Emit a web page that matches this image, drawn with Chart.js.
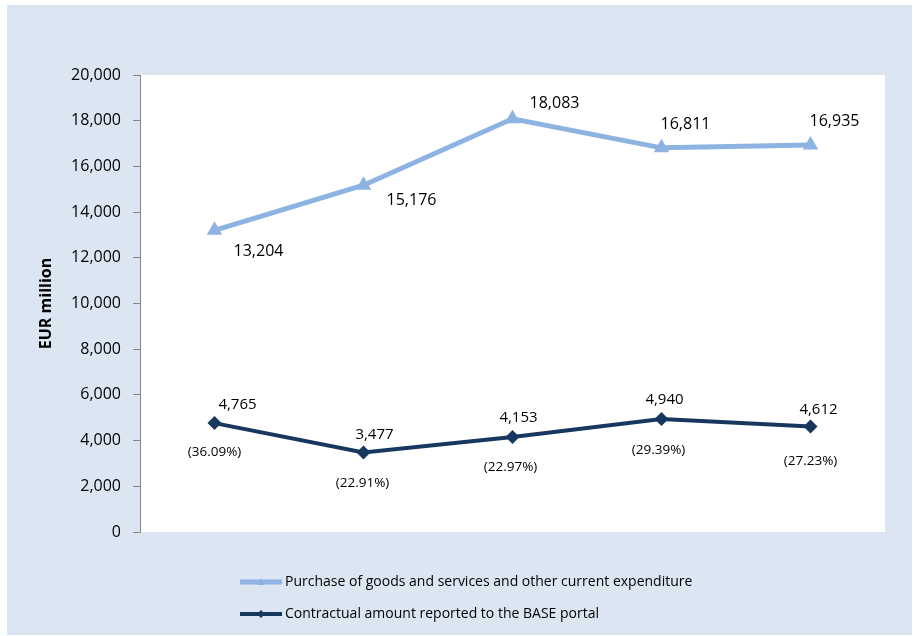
<!DOCTYPE html>
<html>
<head>
<meta charset="utf-8">
<title>Purchase of goods and services vs BASE portal</title>
<script src="https://cdn.jsdelivr.net/npm/chart.js@4/dist/chart.umd.min.js"></script>
<style>
  html, body { margin: 0; padding: 0; background: #fff; }
  #wrap { width: 913px; height: 636px; }
</style>
</head>
<body>
<div id="wrap"><canvas id="chartGastos" width="913" height="636"></canvas></div>
<script>
// Datos
const years = ["2012", "2013", "2014", "2015", "2016"];
const purchaseValues = [13204, 15176, 18083, 16811, 16935];
const baseValues = [4765, 3477, 4153, 4940, 4612];
const baseShareLabels = ["(36.09%)", "(22.91%)", "(22.97%)", "(29.39%)", "(27.23%)"];
const yTicks = [0, 2000, 4000, 6000, 8000, 10000, 12000, 14000, 16000, 18000, 20000];

// Posición de las etiquetas respecto al punto (px)
const purchaseLabelOffsets = [[44, 21], [48, 15], [42, -15], [24, -23], [24, -24]];
const baseLabelOffsets = [[23, -18], [11, -18], [6, -19], [3, -19], [8, -17]];
const shareLabelOffsets = [[0, 29], [-1, 31], [-2, 30], [-3, 31], [0, 35]];

const FONT = "'Open Sans', sans-serif";
const fmt = v => v.toLocaleString("en-US");

// Fondo azul y área blanca del gráfico
const fondo = {
  id: "fondo",
  beforeDraw(chart) {
    const { ctx, chartArea: a } = chart;
    ctx.save();
    ctx.fillStyle = "#ffffff";
    ctx.fillRect(0, 0, chart.width, chart.height);
    ctx.fillStyle = "#dce6f2";
    ctx.fillRect(7, 5, 905, 630);
    ctx.fillStyle = "#ffffff";
    ctx.fillRect(a.left, a.top, a.right - a.left, a.bottom - a.top);
    ctx.restore();
  }
};

// Etiquetas de valores y porcentajes
const etiquetas = {
  id: "etiquetas",
  afterDatasetsDraw(chart) {
    const { ctx } = chart;
    ctx.save();
    ctx.fillStyle = "#000";
    ctx.textAlign = "center";
    ctx.textBaseline = "middle";
    const m0 = chart.getDatasetMeta(0).data;
    const m1 = chart.getDatasetMeta(1).data;
    ctx.font = "16px " + FONT;
    m0.forEach((p, i) => {
      const [dx, dy] = purchaseLabelOffsets[i];
      ctx.fillText(fmt(purchaseValues[i]), p.x + dx, p.y + dy);
    });
    ctx.font = "15px " + FONT;
    m1.forEach((p, i) => {
      const [dx, dy] = baseLabelOffsets[i];
      ctx.fillText(fmt(baseValues[i]), p.x + dx, p.y + dy);
    });
    ctx.font = "13.5px " + FONT;
    m1.forEach((p, i) => {
      const [dx, dy] = shareLabelOffsets[i];
      ctx.fillText(baseShareLabels[i], p.x + dx, p.y + dy);
    });
    ctx.restore();
  }
};

// Leyenda: línea con marcador y texto
const leyenda = {
  id: "leyenda",
  afterDraw(chart) {
    const { ctx } = chart;
    const rows = [582, 614];
    ctx.save();
    chart.data.datasets.forEach((ds, i) => {
      const y = rows[i];
      ctx.strokeStyle = ds.borderColor;
      ctx.lineWidth = ds.borderWidth;
      ctx.beginPath();
      ctx.moveTo(240, y);
      ctx.lineTo(282, y);
      ctx.stroke();
      ctx.fillStyle = ds.borderColor;
      ctx.beginPath();
      if (ds.pointStyle === "triangle") {
        ctx.moveTo(261, y - 4);
        ctx.lineTo(265, y + 3);
        ctx.lineTo(257, y + 3);
      } else {
        ctx.moveTo(261, y - 4);
        ctx.lineTo(265, y);
        ctx.lineTo(261, y + 4);
        ctx.lineTo(257, y);
      }
      ctx.closePath();
      ctx.fill();
      ctx.fillStyle = "#000";
      ctx.font = "14px " + FONT;
      ctx.textAlign = "left";
      ctx.textBaseline = "middle";
      ctx.fillText(ds.label, 285, y);
    });
    ctx.restore();
  }
};

new Chart(document.getElementById("chartGastos"), {
  type: "line",
  data: {
    labels: years,
    datasets: [
      {
        label: "Purchase of goods and services and other current expenditure",
        data: purchaseValues,
        borderColor: "#8db3e2",
        backgroundColor: "#8db3e2",
        borderWidth: 5,
        pointStyle: "triangle",
        pointRadius: 9,
        pointBorderWidth: 0,
        tension: 0
      },
      {
        label: "Contractual amount reported to the BASE portal",
        data: baseValues,
        borderColor: "#17375e",
        backgroundColor: "#17375e",
        borderWidth: 4,
        pointStyle: "rectRot",
        pointRadius: 7,
        pointBorderWidth: 0,
        tension: 0
      }
    ]
  },
  options: {
    responsive: false,
    animation: false,
    layout: { padding: { left: 0, top: 75, right: 28, bottom: 104 } },
    plugins: {
      legend: { display: false },
      tooltip: { enabled: false }
    },
    scales: {
      x: { display: false, offset: true },
      y: {
        min: 0,
        max: 20000,
        afterBuildTicks(scale) {
          scale.ticks = yTicks.map(v => ({ value: v }));
        },
        afterFit(scale) { scale.width = 140; },
        border: { display: true, color: "#868686", width: 1 },
        grid: {
          drawOnChartArea: false,
          drawTicks: true,
          tickLength: 7,
          color: "#868686"
        },
        ticks: {
          color: "#000",
          padding: 12,
          font: { family: FONT, size: 16 },
          callback: v => fmt(v)
        },
        title: {
          display: true,
          text: "EUR million",
          color: "#000",
          font: { family: FONT, size: 16, weight: "bold" },
          padding: { top: 37, bottom: 0 }
        }
      }
    }
  },
  plugins: [fondo, etiquetas, leyenda]
});
</script>
</body>
</html>
